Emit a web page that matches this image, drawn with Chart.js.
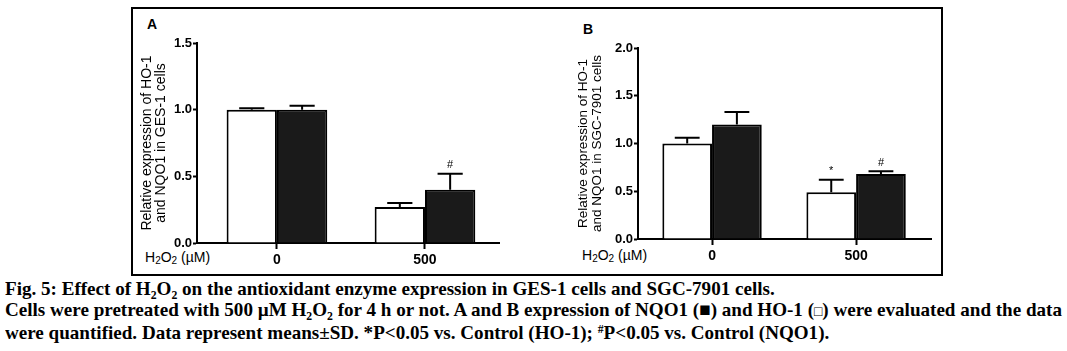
<!DOCTYPE html>
<html>
<head>
<meta charset="utf-8">
<script src="https://cdn.jsdelivr.net/npm/chart.js@4.4.0/dist/chart.umd.min.js"></script>
<style>
    body { margin: 0; background: #fff; width: 1067px; height: 351px; position: relative; overflow: hidden; }
    #box { position: absolute; left: 131px; top: 7px; width: 808px; height: 265px; border: 2px solid #000; }
    canvas { position: absolute; }
    .panel { position: absolute; font: bold 14px "Liberation Sans", Arial, sans-serif; }
    .unit { position: absolute; font: 14px "Liberation Sans", Arial, sans-serif; }
    .unit sub { font-size: 10px; vertical-align: -2px; line-height: 0; }
    #caption { position: absolute; left: 5px; top: 278px; font: bold 19.5px "Liberation Serif", "Times New Roman", serif;
               line-height: 21px; transform-origin: 0 0; white-space: nowrap; color: #000; }
    #caption sub { font-size: 12px; vertical-align: -4px; line-height: 0; }
    #caption sup { font-size: 12px; vertical-align: 6px; line-height: 0; }
    .sq { font-weight: normal; font-size: 14px; }
</style>
</head>
<body>
<div id="box"></div>
<div class="panel" style="left:147px;top:16px;">A</div>
<div class="panel" style="left:583px;top:21px;">B</div>
<div class="unit" style="left:145px;top:249px;">H<sub>2</sub>O<sub>2</sub> (µM)</div>
<div class="unit" style="left:582px;top:247px;">H<sub>2</sub>O<sub>2</sub> (µM)</div>
<canvas id="chartA" width="380" height="262" style="left:136px;top:10px;"></canvas>
<canvas id="chartB" width="380" height="262" style="left:560px;top:10px;"></canvas>
<div id="caption">
    <div>Fig. 5: Effect of H<sub>2</sub>O<sub>2</sub> on the antioxidant enzyme expression in GES-1 cells and SGC-7901 cells.</div>
    <div id="line2">Cells were pretreated with 500 µM H<sub>2</sub>O<sub>2</sub> for 4 h or not. A and B expression of NQO1 (■) and HO-1 (<span class="sq">□</span>) were evaluated and the data</div>
    <div>were quantified. Data represent means±SD. *P&lt;0.05 vs. Control (HO-1); <sup>#</sup>P&lt;0.05 vs. Control (NQO1).</div>
</div>

<script>
// --- Data ---
const categories = ['0', '500'];          // H2O2 (µM)

// Panel A: GES-1 cells
const ho1A = [1.00, 0.27];
const ho1ErrA = [0.01, 0.03];
const nqo1A = [1.00, 0.40];
const nqo1ErrA = [0.03, 0.12];
const ho1MarkA = ['', ''];
const nqo1MarkA = ['', '#'];
const yTicksA = [0, 0.5, 1.0, 1.5];

// Panel B: SGC-7901 cells
const ho1B = [1.00, 0.49];
const ho1ErrB = [0.06, 0.13];
const nqo1B = [1.20, 0.68];
const nqo1ErrB = [0.13, 0.03];
const ho1MarkB = ['', '*'];
const nqo1MarkB = ['', '#'];
const yTicksB = [0, 0.5, 1.0, 1.5, 2.0];

const FONT = '"Liberation Sans", Arial, sans-serif';

// --- Error bars (upward only, Prism style) + significance marks ---
const errorBars = {
    id: 'errorBars',
    afterDatasetsDraw(chart) {
        const ctx = chart.ctx;
        const y = chart.scales.y;
        ctx.save();
        ctx.strokeStyle = '#000';
        ctx.fillStyle = '#000';
        ctx.lineWidth = 2;
        chart.data.datasets.forEach((ds, i) => {
            const meta = chart.getDatasetMeta(i);
            meta.data.forEach((bar, j) => {
                const val = ds.data[j].y;
                const top = y.getPixelForValue(val + ds.sd[j]);
                const base = y.getPixelForValue(val);
                const half = bar.width / 4;
                ctx.beginPath();
                ctx.moveTo(bar.x, base);
                ctx.lineTo(bar.x, top);
                ctx.moveTo(bar.x - half, top);
                ctx.lineTo(bar.x + half, top);
                ctx.stroke();
                if (ds.marks[j]) {
                    ctx.font = '11px ' + FONT;
                    ctx.textAlign = 'center';
                    ctx.textBaseline = 'bottom';
                    ctx.fillText(ds.marks[j], bar.x, top - 3);
                }
            });
        });
        ctx.restore();
    }
};

function makeChart(id, ho1, ho1Err, ho1Mark, nqo1, nqo1Err, nqo1Mark, yTicks, yTitle, cfg) {
    const pos = categories.map((c, i) => i);
    return new Chart(document.getElementById(id), {
        type: 'bar',
        data: {
            datasets: [
                {
                    label: 'HO-1',
                    data: pos.map((p, i) => ({ x: p, y: ho1[i] })),
                    sd: ho1Err,
                    marks: ho1Mark,
                    backgroundColor: '#ffffff',
                    borderColor: '#000',
                    borderWidth: 2
                },
                {
                    label: 'NQO1',
                    data: pos.map((p, i) => ({ x: p, y: nqo1[i] })),
                    sd: nqo1Err,
                    marks: nqo1Mark,
                    backgroundColor: '#1a1a1a',
                    borderColor: '#000',
                    borderWidth: 2
                }
            ]
        },
        options: {
            responsive: false,
            animation: false,
            layout: { padding: { top: cfg.top, right: cfg.right, left: cfg.left, bottom: 0 } },
            plugins: { legend: { display: false }, tooltip: { enabled: false } },
            datasets: { bar: { categoryPercentage: cfg.catPct, barPercentage: 1 } },
            scales: {
                x: {
                    type: 'linear',
                    offset: false,
                    min: cfg.xMin,
                    max: cfg.xMax,
                    afterBuildTicks: s => { s.ticks = pos.map(v => ({ value: v })); },
                    afterFit: s => { s.height = cfg.xHeight; },
                    grid: { display: true, offset: false, drawOnChartArea: false, drawTicks: true, tickLength: 6, tickColor: '#000', tickWidth: 2 },
                    border: { display: true, color: '#000', width: 2 },
                    ticks: {
                        padding: 3,
                        color: '#000',
                        font: { family: FONT, size: 14, weight: 'bold' },
                        callback: (v, i) => categories[i]
                    }
                },
                y: {
                    min: yTicks[0],
                    max: yTicks[yTicks.length - 1],
                    afterBuildTicks: s => { s.ticks = yTicks.map(v => ({ value: v })); },
                    afterFit: s => { s.width = cfg.yWidth; },
                    grid: { display: true, drawOnChartArea: false, drawTicks: true, tickLength: 4, tickColor: '#000', tickWidth: 2 },
                    border: { display: true, color: '#000', width: 2 },
                    ticks: {
                        padding: 1,
                        color: '#000',
                        font: { family: FONT, size: 13, weight: 'bold' },
                        callback: v => v.toFixed(1)
                    },
                    title: {
                        display: true,
                        text: yTitle,
                        color: '#000',
                        padding: { top: 4, bottom: 0 },
                        font: { family: FONT, size: cfg.titleSize, lineHeight: 1.0 }
                    }
                }
            }
        },
        plugins: [errorBars]
    });
}

makeChart('chartA', ho1A, ho1ErrA, ho1MarkA, nqo1A, nqo1ErrA, nqo1MarkA, yTicksA,
    ['Relative expression of HO-1', 'and NQO1 in GES-1 cells'],
    { top: 33, right: 17, left: 0, yWidth: 61, xHeight: 29, xMin: -0.54, xMax: 1.5, catPct: 0.68, titleSize: 14 });

makeChart('chartB', ho1B, ho1ErrB, ho1MarkB, nqo1B, nqo1ErrB, nqo1MarkB, yTicksB,
    ['Relative expression of HO-1', 'and NQO1 in SGC-7901 cells'],
    { top: 38, right: 9, left: 13, yWidth: 65, xHeight: 33, xMin: -0.514, xMax: 1.52, catPct: 0.69, titleSize: 13.5 });

// --- Caption: stretch so line 2 spans the page width like the figure ---
const caption = document.getElementById('caption');
const line2 = document.getElementById('line2');
const range = document.createRange();
range.selectNodeContents(line2);
const textW = range.getBoundingClientRect().width;
caption.style.transform = 'scaleX(' + (1057 / textW) + ')';
</script>
</body>
</html>
